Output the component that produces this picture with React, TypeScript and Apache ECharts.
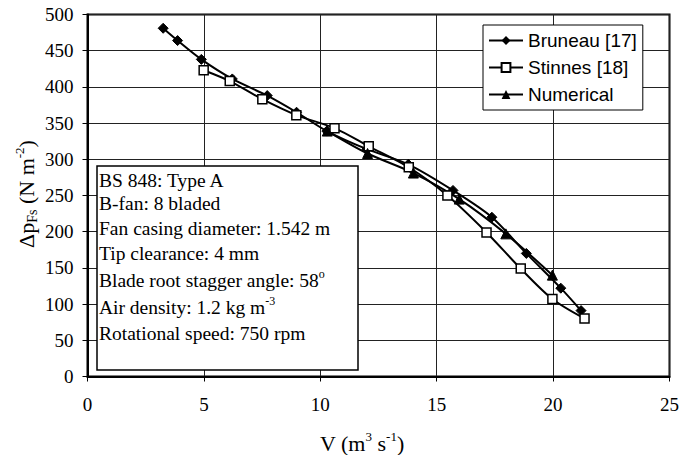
import React, { useEffect, useRef } from "react";
import * as echarts from "echarts";

const xTicks = [0, 5, 10, 15, 20, 25];
const yTicks = [0, 50, 100, 150, 200, 250, 300, 350, 400, 450, 500];

const bruneauX = [3.25, 3.87, 4.89, 6.22, 7.72, 8.98, 10.28, 12.0, 13.78, 15.7, 17.37, 18.85, 20.33, 21.2];
const bruneauY = [481, 464, 438, 411, 388, 365, 339, 314, 293, 257, 220, 170, 122, 91];

const stinnesX = [4.99, 6.11, 7.51, 8.97, 10.61, 12.08, 13.8, 15.46, 17.14, 18.61, 19.97, 21.35];
const stinnesY = [423, 408, 383, 361, 343, 318, 289, 250, 199, 149, 107, 80];

const numericalX = [10.3, 12.03, 14.0, 15.97, 17.97, 19.97];
const numericalY = [339, 308, 281, 245, 197, 140];

const seriesNames = ["Bruneau [17]", "Stinnes [18]", "Numerical"];

const infoLines = [
  "BS 848: Type A",
  "B-fan: 8 bladed",
  "Fan casing diameter: 1.542 m",
  "Tip clearance: 4 mm",
  "Blade root stagger angle: 58{sup|o}",
  "Air density: 1.2 kg m{sup|-3}",
  "Rotational speed: 750 rpm",
];
const infoLineY = [180, 203, 228, 253, 280, 307, 333];

const serif = "'Liberation Serif', 'Times New Roman', serif";
const sans = "'Liberation Sans', Arial, sans-serif";

export default function App() {
  const ref = useRef<HTMLDivElement>(null);
  useEffect(() => {
    const chart = echarts.init(ref.current!, null, { renderer: "svg" });
    const zip = (xs: number[], ys: number[]) => xs.map((x, i) => [x, ys[i]]);
    const mkRich = (sz: number) => ({
      sup: { fontSize: Math.round(sz * 0.6), fontFamily: serif, fill: "#000", verticalAlign: "top", lineHeight: sz + 4 },
      sub: { fontSize: Math.round(sz * 0.62), fontFamily: serif, fill: "#000", verticalAlign: "bottom", lineHeight: sz + 4 },
    });
    const textEl = (text: string, x: number, y: number, sz: number, align: string, extra: any = {}) => ({
      type: "text",
      x,
      y,
      z: 100,
      ...extra,
      style: {
        text,
        fontFamily: serif,
        fontSize: sz,
        lineHeight: sz + 4,
        fill: "#000",
        align,
        verticalAlign: "middle",
        rich: mkRich(sz),
      },
    });
    chart.setOption({
      animation: false,
      backgroundColor: "#fff",
      grid: {
        left: 87.5,
        right: 11,
        top: 14.5,
        bottom: 78.5,
        show: true,
        borderColor: "#000",
        borderWidth: 2,
        backgroundColor: "transparent",
      },
      xAxis: {
        type: "value",
        min: xTicks[0],
        max: xTicks[xTicks.length - 1],
        interval: 5,
        axisLine: { show: true, lineStyle: { color: "#000", width: 2 } },
        axisTick: { show: true, inside: false, length: 5, lineStyle: { color: "#000", width: 1 } },
        axisLabel: { margin: 18, fontFamily: serif, fontSize: 19, color: "#000" },
        splitLine: { show: true, lineStyle: { color: "#222", width: 1 } },
      },
      yAxis: {
        type: "value",
        min: yTicks[0],
        max: yTicks[yTicks.length - 1],
        interval: 50,
        axisLine: { show: true, lineStyle: { color: "#000", width: 2 } },
        axisTick: { show: true, inside: false, length: 5, lineStyle: { color: "#000", width: 1 } },
        axisLabel: { margin: 14, fontFamily: serif, fontSize: 19, color: "#000" },
        splitLine: { show: true, lineStyle: { color: "#222", width: 1 } },
      },
      legend: {
        orient: "vertical",
        left: 483,
        top: 25,
        backgroundColor: "#fff",
        borderColor: "#000",
        borderWidth: 1,
        borderRadius: 0,
        padding: [6, 6, 6, 5],
        itemWidth: 34,
        itemHeight: 11,
        itemGap: 8,
        textStyle: { fontFamily: sans, fontSize: 19, color: "#000" },
        data: seriesNames,
      },
      series: [
        {
          name: seriesNames[0],
          type: "line",
          data: zip(bruneauX, bruneauY),
          smooth: 0.3,
          symbol: "diamond",
          symbolSize: 10,
          showAllSymbol: true,
          lineStyle: { color: "#000", width: 2 },
          itemStyle: { color: "#000", borderColor: "#000" },
        },
        {
          name: seriesNames[1],
          type: "line",
          data: zip(stinnesX, stinnesY),
          smooth: 0.3,
          symbol: "rect",
          symbolSize: 9,
          showAllSymbol: true,
          lineStyle: { color: "#000", width: 2 },
          itemStyle: { color: "#fff", borderColor: "#000", borderWidth: 1.5 },
        },
        {
          name: seriesNames[2],
          type: "line",
          data: zip(numericalX, numericalY),
          smooth: 0.3,
          symbol: "triangle",
          symbolSize: 10,
          showAllSymbol: true,
          lineStyle: { color: "#000", width: 2 },
          itemStyle: { color: "#000", borderColor: "#000" },
        },
      ],
      graphic: [
        textEl("V (m{sup|3} s{sup|-1})", 362, 443, 22, "center"),
        textEl("Δp{sub|Fs} (N m{sup|-2})", 26, 194, 22, "center", { rotation: Math.PI / 2 }),
        {
          type: "rect",
          z: 99,
          shape: { x: 97, y: 166, width: 261, height: 204 },
          style: { fill: "#fff", stroke: "#000", lineWidth: 1.5 },
        },
        ...infoLines.map((t, i) => textEl(t, 99, infoLineY[i], 19.5, "left")),
      ],
    });
    return () => chart.dispose();
  }, []);
  return <div ref={ref} style={{ position: "fixed", left: 0, top: 0, width: 682, height: 455 }} />;
}
